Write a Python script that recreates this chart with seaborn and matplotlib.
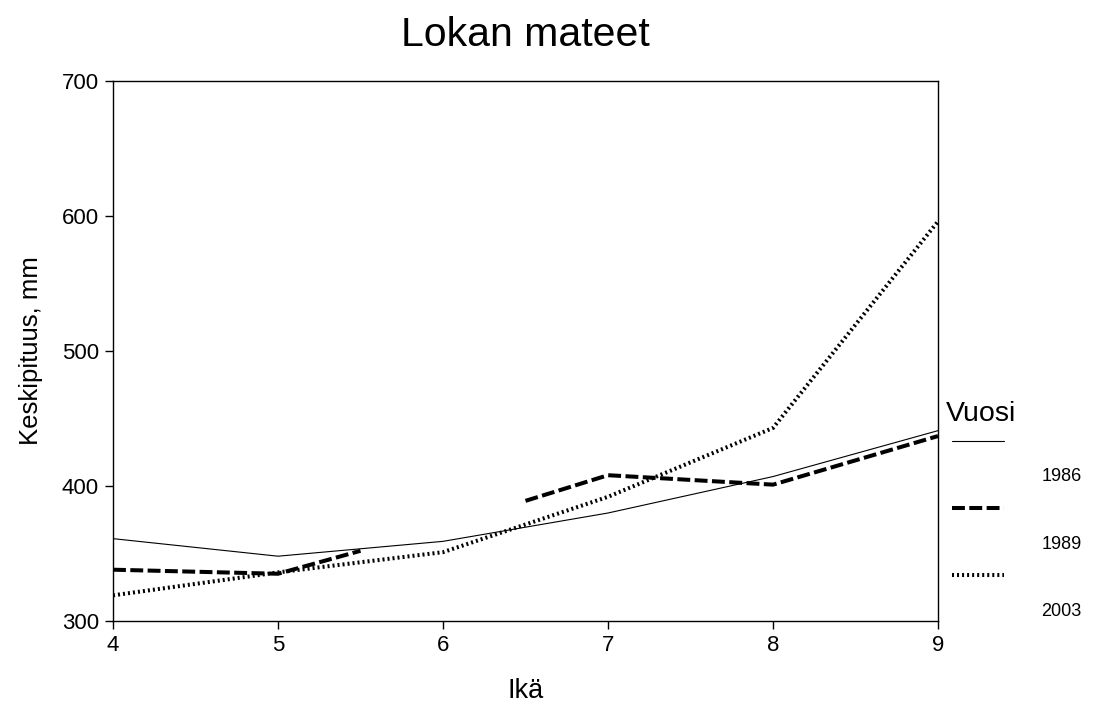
import pandas as pd
import seaborn as sns
import matplotlib.pyplot as plt
from matplotlib.lines import Line2D

# --- data (luettu kuvasta) ---
years = ["1986", "1989", "2003"]

ages_1986 = [4, 5, 6, 7, 8, 9]
len_1986 = [361, 348, 359, 380, 407, 441]

# 1989: ikä 6 puuttuu -> viiva katkeaa välillä 5.5 ... 6.5
ages_1989 = [4, 5, 5.5, 6.5, 7, 8, 9]
len_1989 = [338, 335, 352, 389, 408, 401, 437]
seg_1989 = [0, 0, 0, 1, 1, 1, 1]

ages_2003 = [4, 5, 6, 7, 8, 9]
len_2003 = [319, 336, 351, 392, 443, 596]

x_ticks = [4, 5, 6, 7, 8, 9]
y_ticks = [300, 400, 500, 600, 700]

# long-format taulukko seabornille
frames = [
    pd.DataFrame({"ika": ages_1986, "pituus": len_1986, "vuosi": "1986", "seg": 0}),
    pd.DataFrame({"ika": ages_1989, "pituus": len_1989, "vuosi": "1989", "seg": seg_1989}),
    pd.DataFrame({"ika": ages_2003, "pituus": len_2003, "vuosi": "2003", "seg": 0}),
]
df = pd.concat(frames, ignore_index=True)

sns.set_theme(style="white")
plt.rcParams["font.family"] = ["Liberation Sans", "DejaVu Sans"]
plt.rcParams["text.color"] = "black"
plt.rcParams["axes.labelcolor"] = "black"

dashes = {"1986": "", "1989": (3.2, 1.1), "2003": (0.5, 0.75)}
sizes = {"1986": 0.8, "1989": 2.9, "2003": 2.9}
palette = {y: "black" for y in years}

fig = plt.figure(figsize=(10.98, 7.26), dpi=100)
ax = fig.add_axes([113 / 1098, 1 - 621 / 726, 825 / 1098, 540 / 726])

sns.lineplot(
    data=df, x="ika", y="pituus", hue="vuosi", style="vuosi", size="vuosi",
    units="seg", estimator=None, palette=palette, dashes=dashes, sizes=sizes,
    legend=False, ax=ax,
)

ax.set_xlim(4, 9)
ax.set_ylim(300, 700)
ax.set_xticks(x_ticks)
ax.set_yticks(y_ticks)
ax.tick_params(direction="out", length=6, width=1, left=True, bottom=True,
               labelsize=16, pad=4, colors="black")
for sp in ax.spines.values():
    sp.set_color("black")
    sp.set_linewidth(1)

ax.set_title("Lokan mateet", fontsize=29.5, pad=25, color="black")
ax.set_xlabel("Ikä", fontsize=19.5, labelpad=16)
ax.set_ylabel("Keskipituus, mm", fontsize=18.5, labelpad=14)

# legenda: viivat ylärivissä, vuosiluku alempana oikealla (kuten alkuperäisessä)
handles = []
for y in years:
    h = Line2D([], [], color="black", lw=sizes[y])
    if dashes[y]:
        h.set_dashes(dashes[y])
    handles.append(h)

leg = fig.legend(
    handles, ["", "", ""], loc="center left",
    bbox_to_anchor=(952 / 1098, 1 - 510 / 726), frameon=False,
    fontsize=13, handlelength=2.9, handletextpad=0, borderpad=0,
    borderaxespad=0, labelspacing=2.78,
)

fig.canvas.draw()
renderer = fig.canvas.get_renderer()
inv = fig.transFigure.inverted()
for i, (h, y) in enumerate(zip(leg.legend_handles, years)):
    bb = h.get_window_extent(renderer)
    yc = (bb.y0 + bb.y1) / 2
    tx, ty = inv.transform((bb.x1 + 37, yc - 36))
    fig.text(tx, ty, y, fontsize=13, ha="left", va="center")
    if i == 0:
        vx, vy = inv.transform((bb.x0 - 6, yc + 27))
        fig.text(vx, vy, "Vuosi", fontsize=20.5, ha="left", va="center")

fig.savefig("out.png", dpi=100)
plt.close(fig)
